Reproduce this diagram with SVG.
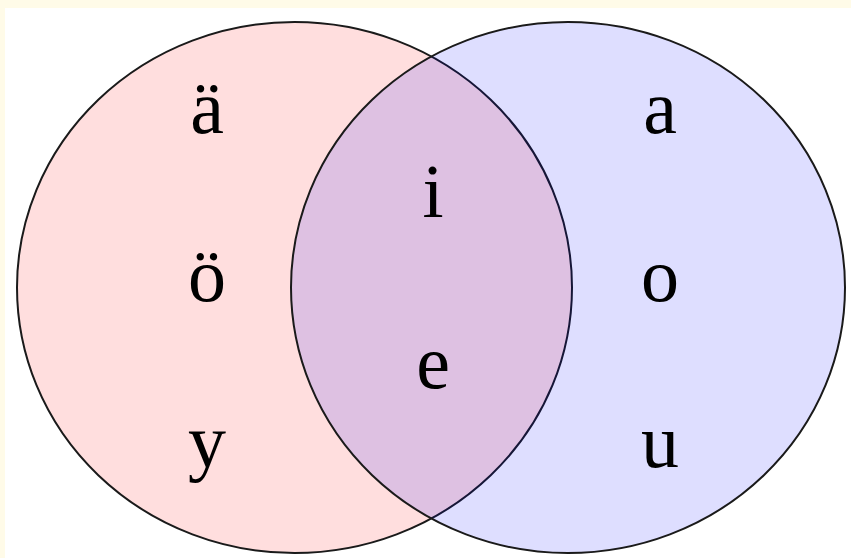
<svg xmlns="http://www.w3.org/2000/svg" width="851" height="558" viewBox="0 0 851 558">
<style>
.set{stroke:#1a1a1a;stroke-width:2}
.lbl{font-family:"Liberation Serif","Times New Roman",serif;font-size:76px;fill:#000;text-anchor:middle}
</style>
<rect x="0" y="0" width="851" height="558" fill="#fffbe8"/>
<rect x="5" y="8" width="846" height="550" fill="#ffffff"/>
<g id="set-front">
<ellipse class="set" cx="294.5" cy="287.5" rx="277.5" ry="265.5" fill="#ff0000" fill-opacity="0.13"/>
</g>
<g id="set-back">
<ellipse class="set" cx="568" cy="287.5" rx="277" ry="265.5" fill="#0000ff" fill-opacity="0.13"/>
</g>
<g id="connectors"></g>
<g id="labels">
<text class="lbl" x="207" y="133">ä</text>
<text class="lbl" x="207" y="301">ö</text>
<text class="lbl" x="207" y="467">y</text>
<text class="lbl" x="433" y="217">i</text>
<text class="lbl" x="433" y="388">e</text>
<text class="lbl" x="660" y="133">a</text>
<text class="lbl" x="660" y="301">o</text>
<text class="lbl" x="660" y="467">u</text>
</g>
</svg>
